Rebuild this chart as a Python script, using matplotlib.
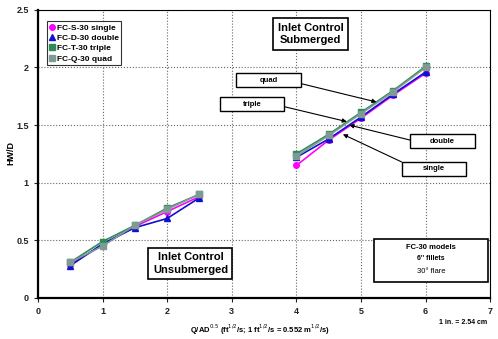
import matplotlib.pyplot as plt
from matplotlib.patches import Rectangle

plt.rcParams['font.family'] = ['Liberation Sans', 'DejaVu Sans']

# discharge intensity Q/AD^0.5
x_unsub = [0.5, 1.0, 1.5, 2.0, 2.5]
x_sub = [4.0, 4.5, 5.0, 5.5, 6.0]

# HW/D values
single_unsub = [0.29, 0.46, 0.62, 0.75, 0.88]
single_sub = [1.15, 1.37, 1.56, 1.76, 1.95]
double_unsub = [0.28, 0.47, 0.61, 0.69, 0.87]
double_sub = [1.22, 1.38, 1.57, 1.77, 1.96]
triple_unsub = [0.31, 0.49, 0.63, 0.78, 0.90]
triple_sub = [1.25, 1.42, 1.61, 1.80, 2.01]
quad_unsub = [0.31, 0.45, 0.63, 0.77, 0.90]
quad_sub = [1.23, 1.41, 1.60, 1.79, 2.00]

series = [
    ("FC-S-30 single", single_unsub, single_sub, "#ff00ff", "o"),
    ("FC-D-30 double", double_unsub, double_sub, "#1010d0", "^"),
    ("FC-T-30 triple", triple_unsub, triple_sub, "#2e8b57", "s"),
    ("FC-Q-30 quad", quad_unsub, quad_sub, "#7f9a95", "s"),
]

# callout labels: text, box centre, arrow start, arrow tip (data units)
callouts = [
    ("quad", (3.57, 1.89), (4.07, 1.86), (5.24, 1.70)),
    ("triple", (3.31, 1.68), (3.81, 1.66), (4.78, 1.53)),
    ("double", (6.26, 1.36), (5.76, 1.37), (4.82, 1.50)),
    ("single", (6.13, 1.12), (5.63, 1.18), (4.72, 1.42)),
]

fig = plt.figure(figsize=(4.98, 3.39), dpi=100)
ax = fig.add_axes([0.0763, 0.121, 0.908, 0.85])

for name, yu, ys, col, mk in series:
    ax.plot(x_unsub, yu, color=col, marker=mk, markersize=4, lw=1.2, label=name)
    ax.plot(x_sub, ys, color=col, marker=mk, markersize=4, lw=1.2)

ax.set_xlim(0, 7)
ax.set_ylim(0, 2.5)
ax.set_xticks(range(8))
ax.set_yticks([0, 0.5, 1, 1.5, 2, 2.5])
ax.set_yticklabels(["0", "0.5", "1", "1.5", "2", "2.5"])
ax.tick_params(labelsize=6.5, length=3, direction='out', colors='#222222')
for lab in ax.get_xticklabels() + ax.get_yticklabels():
    lab.set_fontweight('bold')
ax.grid(True, linestyle=':', color='#666666', lw=0.8)
for s in ['left', 'bottom']:
    ax.spines[s].set_linewidth(1.6)
for s in ['top', 'right']:
    ax.spines[s].set_linewidth(0.8)

fig.text(0.022, 0.55, "HW/D", fontsize=6.5, fontweight='bold', rotation=90,
         ha='center', va='center')
fig.text(0.382, 0.018, r"Q/AD$^{0.5}$ (ft$^{1/2}$/s; 1 ft$^{1/2}$/s = 0.552 m$^{1/2}$/s)",
         fontsize=5.5, fontweight='bold', ha='left')
fig.text(0.93, 0.045, "1 in. = 2.54 cm", fontsize=5, fontweight='bold', ha='center')

leg = ax.legend(loc='upper left', fontsize=6, frameon=True, fancybox=False,
                edgecolor='black', handlelength=0.6, handletextpad=0.3,
                borderpad=0.3, labelspacing=0.3, bbox_to_anchor=(0.01, 0.975),
                prop={'weight': 'bold', 'size': 6})
leg.get_frame().set_linewidth(0.8)
for h in leg.legend_handles:
    h.set_linestyle('None')

box = dict(boxstyle='square,pad=0.4', fc='white', ec='black', lw=1.2)
ax.text(4.22, 2.29, "Inlet Control\nSubmerged", fontsize=8, fontweight='bold',
        ha='center', va='center', bbox=box, linespacing=1.3)
ax.text(2.36, 0.30, "Inlet Control\nUnsubmerged", fontsize=8, fontweight='bold',
        ha='center', va='center', bbox=box, linespacing=1.3)

# model description box
ax.add_patch(Rectangle((5.2, 0.14), 1.77, 0.37, fc='white', ec='black',
                       lw=1.2, zorder=5))
ax.text(6.08, 0.44, "FC-30 models", fontsize=5.5, fontweight='bold',
        ha='center', va='center', zorder=6)
ax.text(6.08, 0.345, "6'' fillets", fontsize=5, fontweight='bold',
        ha='center', va='center', zorder=6)
ax.text(6.08, 0.23, "30\u00b0 flare", fontsize=5.5, ha='center', va='center',
        zorder=6)

bw, bh = 1.0, 0.12
for txt, (cx, cy), (sx, sy), (tx, ty) in callouts:
    ax.annotate("", xy=(tx, ty), xytext=(sx, sy),
                arrowprops=dict(arrowstyle='-|>', color='black', lw=0.8,
                                mutation_scale=6, shrinkA=0, shrinkB=0),
                zorder=4)
    ax.add_patch(Rectangle((cx - bw / 2, cy - bh / 2), bw, bh, fc='white',
                           ec='black', lw=1.0, zorder=5))
    ax.text(cx, cy, txt, fontsize=5.5, fontweight='bold', ha='center',
            va='center', zorder=6)

fig.savefig("out.png", dpi=100)
